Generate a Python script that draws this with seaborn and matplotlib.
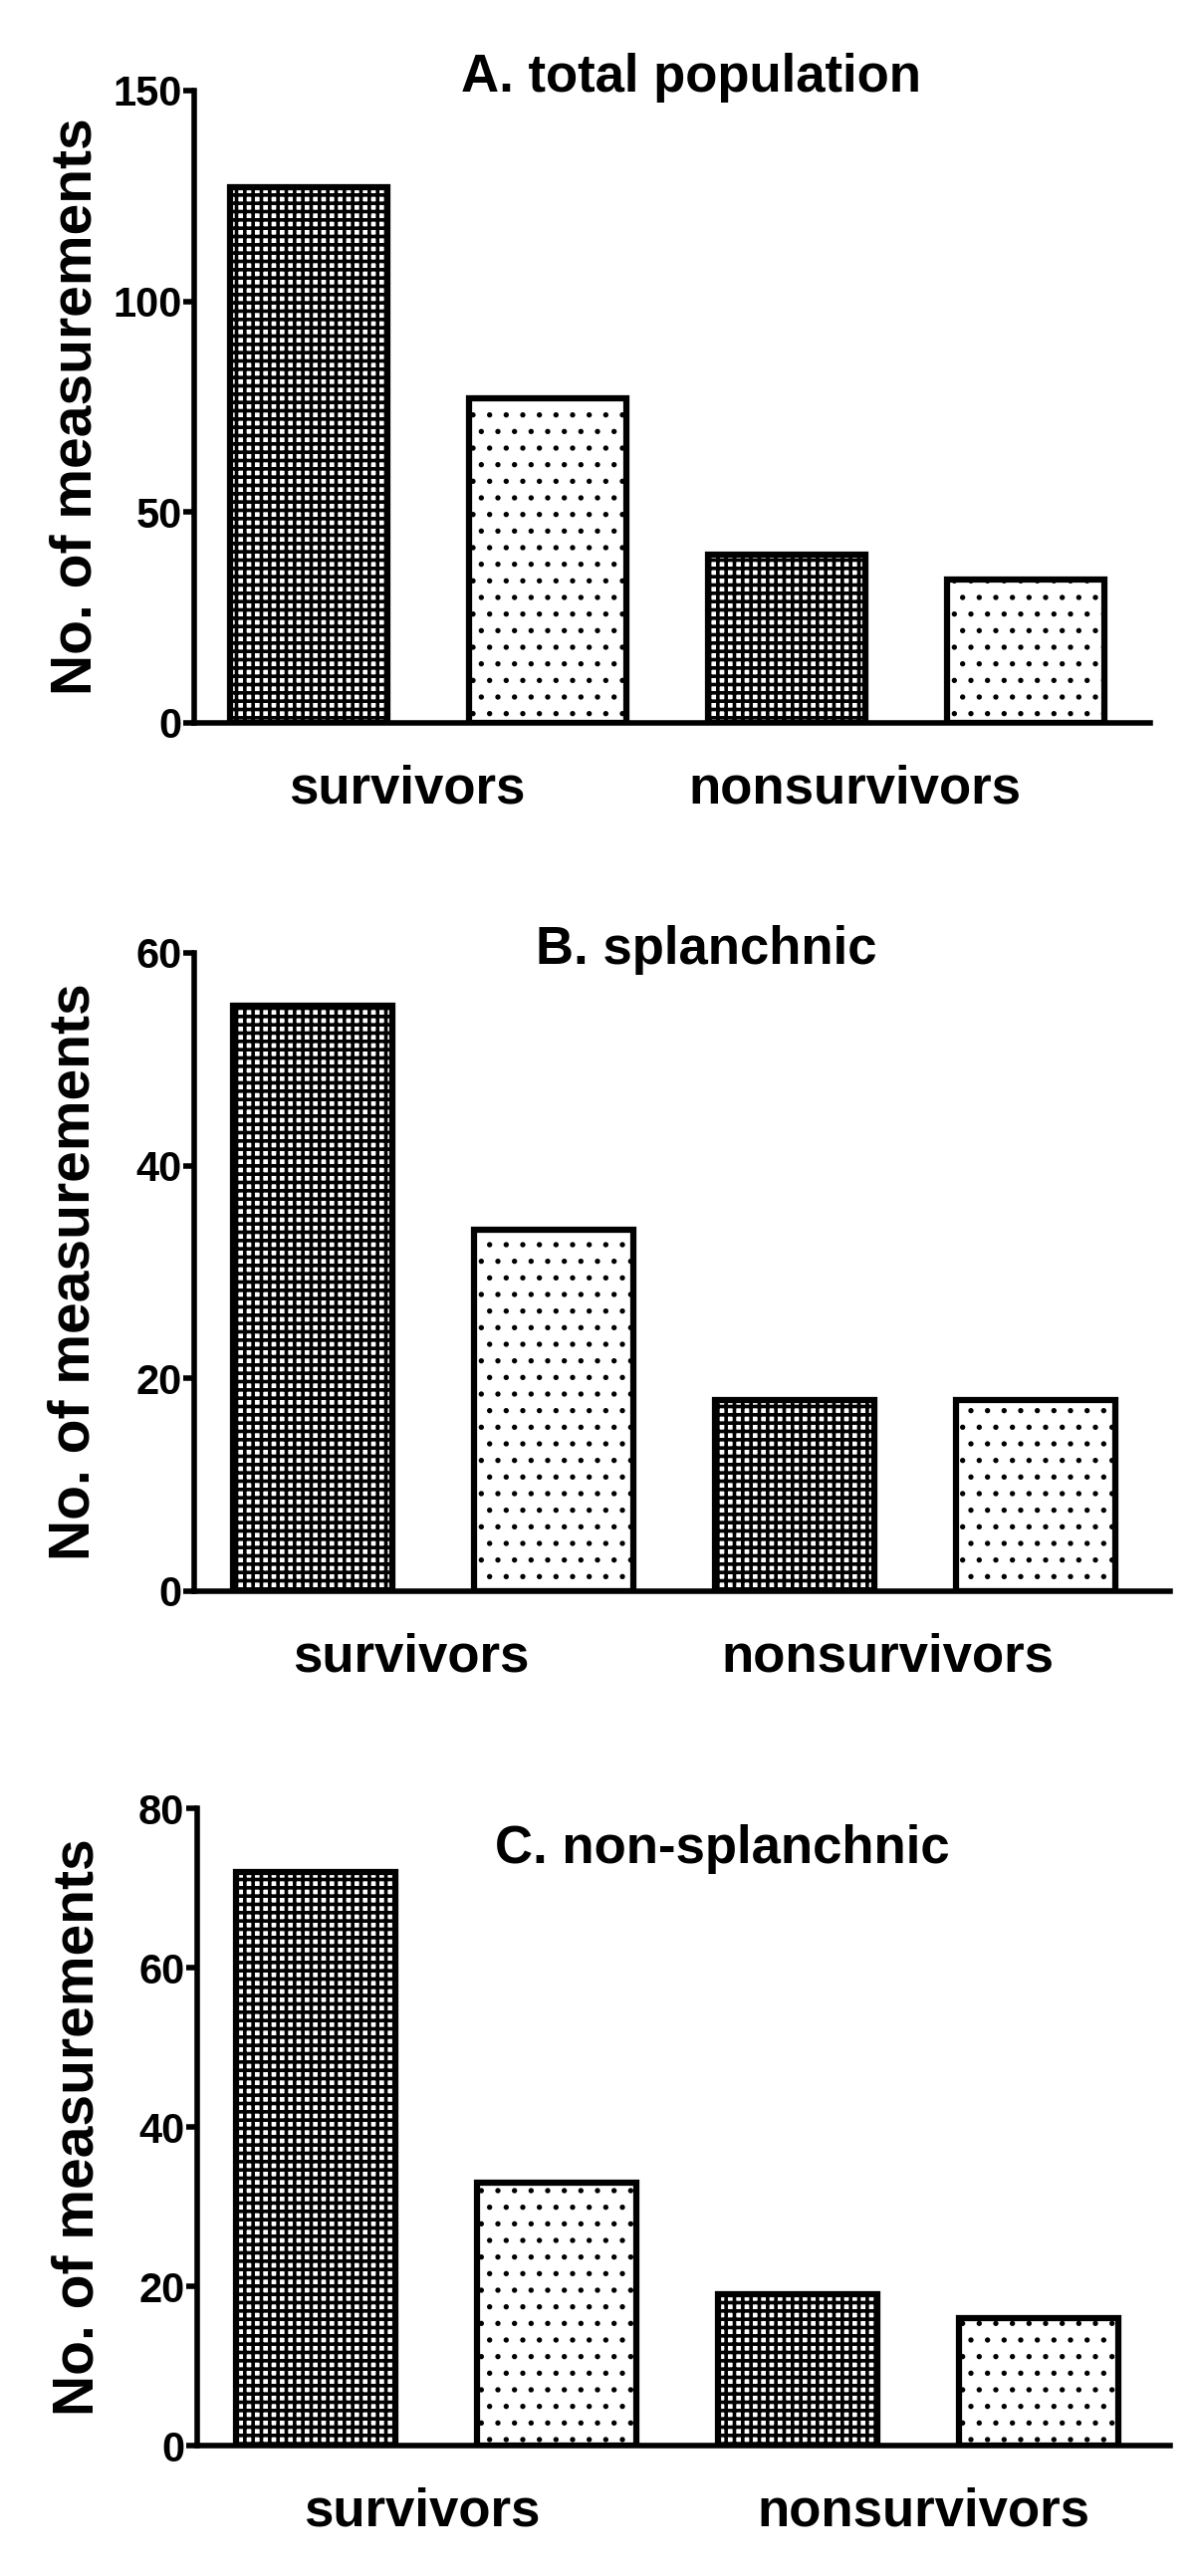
import pandas as pd
import matplotlib
matplotlib.use("Agg")
import matplotlib.pyplot as plt
import seaborn as sns

# data
groups = ["survivors", "nonsurvivors"]
series = ["checkered", "dotted"]

titles = ["A. total population", "B. splanchnic", "C. non-splanchnic"]

total_checkered = [127, 40]
total_dotted = [77, 34]
splanch_checkered = [55, 18]
splanch_dotted = [34, 18]
nonsplanch_checkered = [72, 19]
nonsplanch_dotted = [33, 16]

y_max = [150, 60, 80]
y_ticks = [[0, 50, 100, 150], [0, 20, 40, 60], [0, 20, 40, 60, 80]]

panel_values = [
    (total_checkered, total_dotted),
    (splanch_checkered, splanch_dotted),
    (nonsplanch_checkered, nonsplanch_dotted),
]

sns.set_theme(style="white")
plt.rcParams["font.family"] = ["Liberation Sans", "DejaVu Sans"]
plt.rcParams["font.weight"] = "bold"
plt.rcParams["hatch.linewidth"] = 2.6
for k in ["text.color", "axes.labelcolor", "xtick.color", "ytick.color"]:
    plt.rcParams[k] = "black"

fig = plt.figure(figsize=(12, 25.87), dpi=100)

# axes boxes in figure fractions [left, bottom, width, height]
boxes = [
    [0.1625, 0.7194, 0.800, 0.2455],
    [0.1625, 0.3823, 0.8167, 0.2478],
    [0.1650, 0.0506, 0.8140, 0.2474],
]
xlims = [(-0.490, 1.510), (-0.496, 1.529), (-0.496, 1.523)]
label_x = [(-0.044, 0.892), (-0.045, 0.942), (-0.029, 1.012)]
title_pos = [(0.52, 1.02), (0.525, 1.005), (0.54, 0.936)]

for i in range(3):
    chk, dot = panel_values[i]
    df = pd.DataFrame({
        "group": groups * 2,
        "series": [series[0]] * 2 + [series[1]] * 2,
        "value": chk + dot,
    })
    ax = fig.add_axes(boxes[i])
    sns.barplot(data=df, x="group", y="value", hue="series", order=groups,
                hue_order=series, palette=["white", "white"], width=1.0,
                gap=0.34, edgecolor="black", linewidth=4.5, legend=False,
                ax=ax)

    # checkered and dotted fills
    for cont, hatch in zip(ax.containers, ["++", "."]):
        for bar in cont:
            bar.set_hatch(hatch)
            if hasattr(bar, "set_hatch_linewidth"):
                bar.set_hatch_linewidth(2.6 if hatch == "++" else 1.4)

    ax.set_xlim(*xlims[i])
    ax.set_ylim(0, y_max[i])
    ax.set_yticks(y_ticks[i])
    ax.set_xticks(label_x[i])
    ax.set_xticklabels(groups)
    ax.set_xlabel("")
    ax.set_ylabel("No. of measurements", fontsize=41, fontweight="bold")
    ax.yaxis.set_label_coords(-0.095, 0.5)

    sns.despine(ax=ax)
    for side in ["left", "bottom"]:
        ax.spines[side].set_linewidth(4)
        ax.spines[side].set_color("black")
    ax.tick_params(axis="y", direction="out", length=8, width=4,
                   labelsize=30, pad=1, left=True)
    ax.tick_params(axis="x", length=0, labelsize=38, pad=30)
    for lab in ax.get_xticklabels() + ax.get_yticklabels():
        lab.set_fontweight("bold")

    ax.text(title_pos[i][0], title_pos[i][1], titles[i], transform=ax.transAxes,
            ha="center", va="center", fontsize=38, fontweight="bold")

fig.savefig("out.png", dpi=100, facecolor="white")
